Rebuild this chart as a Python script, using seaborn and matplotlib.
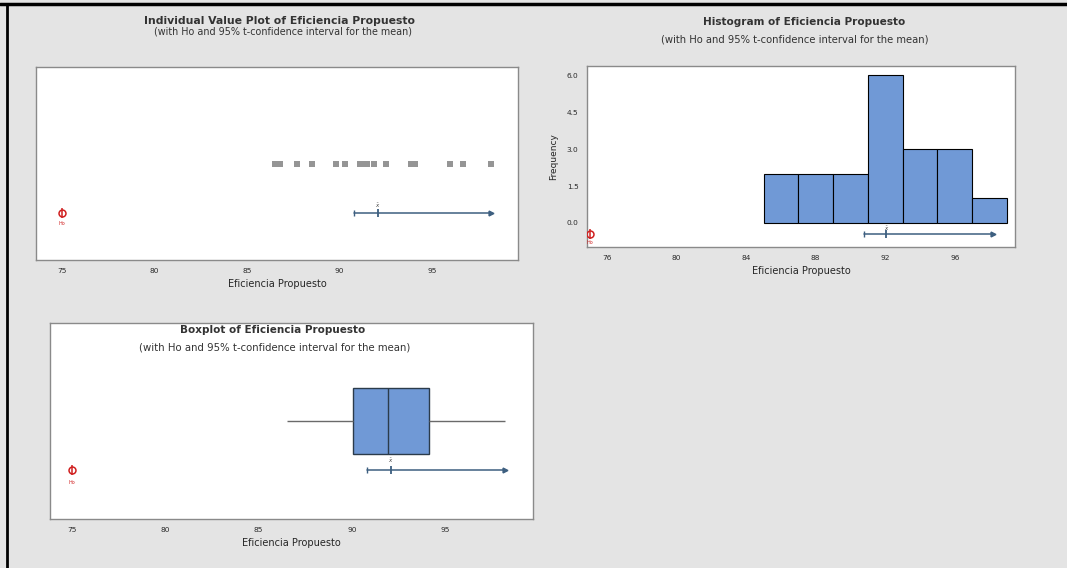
import matplotlib.pyplot as plt
import numpy as np
import pandas as pd
import seaborn as sns

eficiencia = [86.5, 86.8, 87.7, 88.5, 89.8, 90.3, 91.1, 91.3, 91.5, 91.9,
              92.5, 92.5, 93.9, 94.1, 94.1, 96.0, 96.0, 96.7, 98.2]
ho_value = 75
mean_value = 92.07
ci_lower = 90.8
ci_arrow_end = 98.2
hist_edges = [85, 87, 89, 91, 93, 95, 97, 99]
hist_yticks = [0.0, 1.5, 3.0, 4.5, 6.0]
hist_xticks = [76, 80, 84, 88, 92, 96]
value_xticks = [75, 80, 85, 90, 95]

subtitle = "(with Ho and 95% t-confidence interval for the mean)"
xlabel = "Eficiencia Propuesto"

W, H = 1067, 568
BG = "#e4e4e4"
BLUE = "#7099d6"
CI_COLOR = "#3d5f80"
FRAME = "#8a8a8a"

sns.set_theme(style="white")
plt.rcParams["font.family"] = ["DejaVu Sans"]

df = pd.DataFrame({"Eficiencia Propuesto": eficiencia})

fig = plt.figure(figsize=(W / 100, H / 100), dpi=100)
fig.patch.set_facecolor(BG)


def px_axes(left, top, right, bottom):
    return fig.add_axes([left / W, 1 - bottom / H, (right - left) / W, (bottom - top) / H])


def style_axes(ax):
    ax.set_facecolor("white")
    for sp in ax.spines.values():
        sp.set_color(FRAME)
        sp.set_linewidth(1.0)
    ax.tick_params(axis="x", labelsize=5.3, colors="#2a2a2a", length=2, pad=4)


def draw_ci(ax, y, label_dy):
    ax.plot([ci_lower, ci_arrow_end], [y, y], color=CI_COLOR, lw=1.1, zorder=3)
    ax.plot([ci_lower], [y], marker="|", color=CI_COLOR, ms=5, zorder=3)
    ax.plot([mean_value], [y], marker="|", color=CI_COLOR, ms=6, mew=1.3, zorder=3)
    ax.plot([ci_arrow_end], [y], marker=">", color=CI_COLOR, ms=3.5, zorder=3)
    ax.text(mean_value, y + label_dy, r"$\bar{x}$", fontsize=4, color="#444444",
            ha="center", va="center")
    # Ho marker
    ax.plot([ho_value], [y], marker="o", mfc="none", mec="#d02020", ms=5, mew=1.1, zorder=3)
    ax.plot([ho_value], [y], marker="|", color="#d02020", ms=7, mew=1.1, zorder=3)
    ax.text(ho_value, y - 1.6 * label_dy, "Ho", fontsize=3.5, color="#d02020",
            ha="center", va="center")


# black border of the screenshot
fig.add_artist(plt.Line2D([0, 1], [1 - 4 / H, 1 - 4 / H], color="black", lw=2.5))
fig.add_artist(plt.Line2D([7 / W, 7 / W], [0, 1 - 4 / H], color="black", lw=2))

# ---------- Individual value plot ----------
ax1 = px_axes(36, 67, 518, 260)
style_axes(ax1)
sns.scatterplot(data=df, x="Eficiencia Propuesto", y=np.full(len(eficiencia), 0.5),
                marker="s", color="#959595", s=18, linewidth=0, ax=ax1)
draw_ci(ax1, 0.245, 0.035)
ax1.set_xlim(73.6, 99.66)
ax1.set_ylim(0, 1)
ax1.set_yticks([])
ax1.set_xticks(value_xticks)
ax1.set_xlabel(xlabel, fontsize=7, labelpad=3)
ax1.set_ylabel("")
fig.text(280 / W, 1 - 21 / H, "Individual Value Plot of Eficiencia Propuesto",
         ha="center", va="center", fontsize=7.8, fontweight="bold", color="#333333")
fig.text(283 / W, 1 - 32 / H, subtitle, ha="center", va="center", fontsize=6.9,
         color="#333333")

# ---------- Histogram ----------
ax2 = px_axes(587, 66, 1015, 247)
style_axes(ax2)
sns.histplot(data=df, x="Eficiencia Propuesto", bins=hist_edges, color=BLUE,
             edgecolor="black", linewidth=0.8, alpha=1, ax=ax2)
draw_ci(ax2, -0.46, 0.22)
ax2.set_xlim(74.85, 99.46)
ax2.set_ylim(-0.98, 6.38)
ax2.set_xticks(hist_xticks)
ax2.set_yticks(hist_yticks)
ax2.set_yticklabels([f"{v:.1f}" for v in hist_yticks])
ax2.tick_params(axis="y", labelsize=5.3, colors="#2a2a2a", length=2, pad=4)
ax2.set_xlabel(xlabel, fontsize=7, labelpad=3)
ax2.set_ylabel("Frequency", fontsize=6.5, labelpad=6)
fig.text(804 / W, 1 - 22 / H, "Histogram of Eficiencia Propuesto",
         ha="center", va="center", fontsize=7.6, fontweight="bold", color="#333333")
fig.text(795 / W, 1 - 39 / H, subtitle, ha="center", va="center", fontsize=7.2,
         color="#333333")

# ---------- Boxplot ----------
ax3 = px_axes(50, 323, 533, 519)
style_axes(ax3)
sns.boxplot(data=df, x="Eficiencia Propuesto", color=BLUE, width=0.8, linewidth=1,
            linecolor="#2b3b4b", showcaps=False, saturation=1, ax=ax3)
# whiskers in grey, median stays dark
for line in ax3.lines[:2]:
    line.set_color("#6a6a6a")
draw_ci(ax3, 0.59, -0.1)
ax3.set_xlim(73.84, 99.68)
ax3.set_ylim(1.19, -1.19)
ax3.set_yticks([])
ax3.set_xticks(value_xticks)
ax3.set_xlabel(xlabel, fontsize=7, labelpad=3)
ax3.set_ylabel("")
fig.text(273 / W, 1 - 330 / H, "Boxplot of Eficiencia Propuesto",
         ha="center", va="center", fontsize=7.5, fontweight="bold", color="#333333")
fig.text(275 / W, 1 - 347 / H, subtitle, ha="center", va="center", fontsize=7.3,
         color="#333333")

fig.savefig("out.png", dpi=100, facecolor=BG)
